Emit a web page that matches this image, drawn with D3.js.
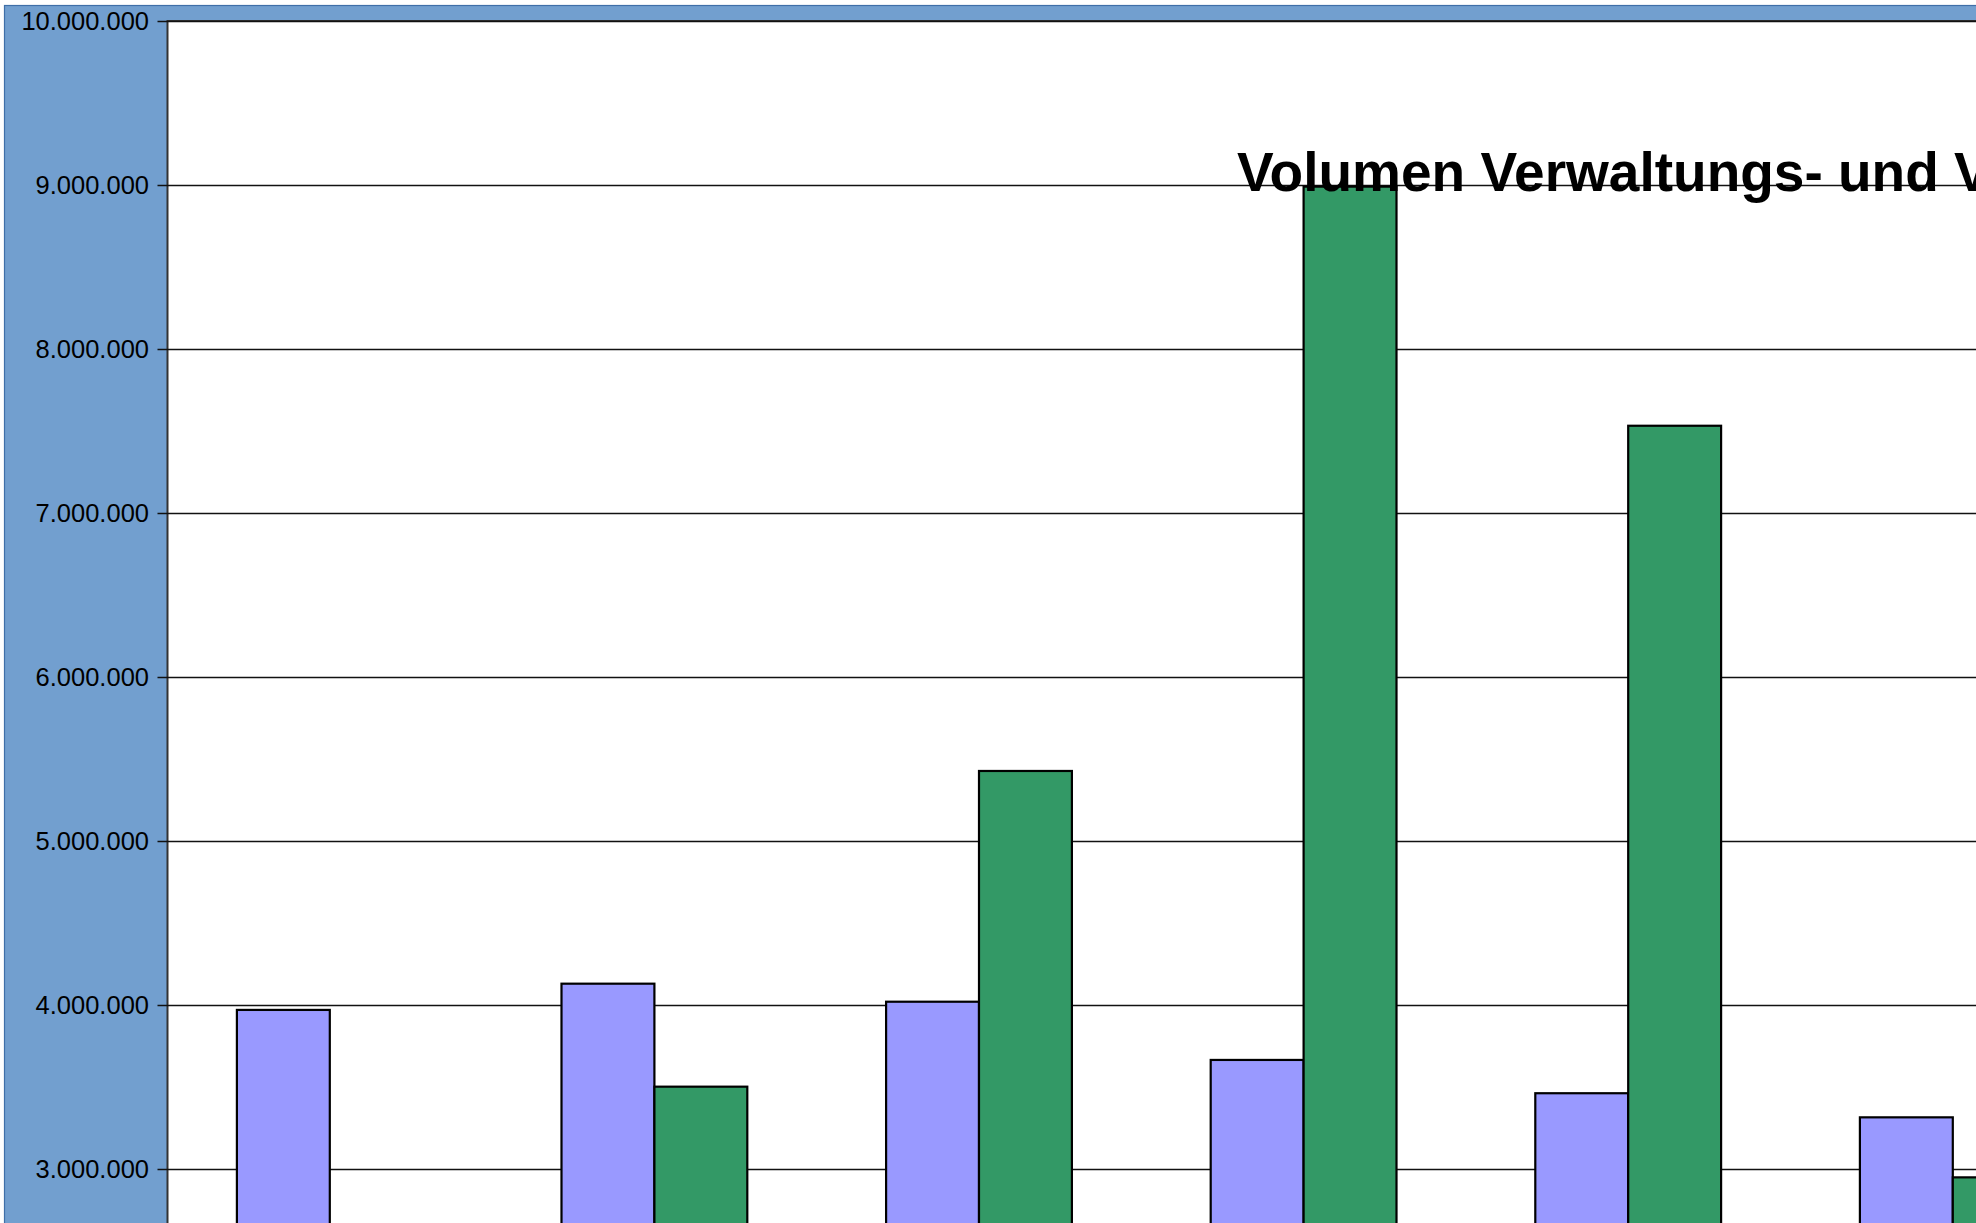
<!DOCTYPE html>
<html>
<head>
<meta charset="utf-8">
<script src="https://cdn.jsdelivr.net/npm/d3@7"></script>
<style>
  html, body { margin: 0; padding: 0; background: #ffffff; overflow: hidden; }
  svg { display: block; }
</style>
</head>
<body>
<div id="vis"></div>
<script>

// chart data (x labels sit below the visible crop)
var categories = ['1', '2', '3', '4', '5', '6'];
var seriesA = [3970000, 4130000, 4020000, 3665000, 3462000, 3315000];
var seriesB = [null, 3502000, 5427000, 8990000, 7532000, 2949000];
var yTicks = [3000000, 4000000, 5000000, 6000000, 7000000, 8000000, 9000000, 10000000];
var titleText = 'Volumen Verwaltungs- und V';

function barChart() {

  // the picture is a crop of a larger chart, so the plot runs past the window
  var width = 1976;
  var height = 1223;
  var plot = { left: 167.5, top: 21, step: 324.6, unit: 164 };

  var de = d3.formatLocale({ decimal: ',', thousands: '.', grouping: [3], currency: ['', ' €'] });
  var fmt = de.format(',d');

  var svg = d3.select('#vis')
    .append('svg')
    .attr('width', width)
    .attr('height', height);

  // scales
  var x0 = d3.scaleBand()
    .domain(categories)
    .range([plot.left, plot.left + plot.step * categories.length])
    .padding(0);

  var x1 = d3.scaleBand()
    .domain(['a', 'b'])
    .range([0, x0.bandwidth()])
    .paddingInner(0)
    .paddingOuter(0.747);

  var y = d3.scaleLinear()
    .domain([0, 10000000])
    .range([plot.top + plot.unit * 10, plot.top]);

  // blue chart background
  svg.append('rect')
    .attr('x', 4.5)
    .attr('y', 5.5)
    .attr('width', width + 20)
    .attr('height', height + 20)
    .attr('fill', '#729fcf')
    .attr('stroke', '#3f6fa8')
    .attr('stroke-width', 1.2);

  // white plot area
  svg.append('rect')
    .attr('x', plot.left)
    .attr('y', plot.top)
    .attr('width', width)
    .attr('height', height)
    .attr('fill', '#ffffff')
    .attr('stroke', '#333333')
    .attr('stroke-width', 2);

  // gridlines with outside tick marks
  svg.append('g')
    .selectAll('line')
    .data(yTicks)
    .enter()
    .append('line')
    .attr('x1', plot.left - 10)
    .attr('x2', width + 10)
    .attr('y1', function(d) { return Math.round(y(d)) + 0.5; })
    .attr('y2', function(d) { return Math.round(y(d)) + 0.5; })
    .attr('stroke', '#111111')
    .attr('stroke-width', 1.3);

  // y axis labels
  svg.append('g')
    .selectAll('text')
    .data(yTicks)
    .enter()
    .append('text')
    .attr('x', plot.left - 18.5)
    .attr('y', function(d) { return y(d); })
    .attr('dy', '0.35em')
    .attr('text-anchor', 'end')
    .attr('font-family', '"Liberation Sans", Arial, sans-serif')
    .attr('font-size', 25.5)
    .attr('fill', '#000000')
    .text(function(d) { return fmt(d); });

  // grouped bars
  var rows = categories.map(function(c, i) {
    return { cat: c, a: seriesA[i], b: seriesB[i] };
  });

  var groups = svg.append('g')
    .selectAll('g')
    .data(rows)
    .enter()
    .append('g')
    .attr('transform', function(d) { return 'translate(' + x0(d.cat) + ',0)'; });

  groups.selectAll('rect')
    .data(function(d) {
      return [
        { key: 'a', value: d.a, color: '#9999ff' },
        { key: 'b', value: d.b, color: '#339966' }
      ].filter(function(e) { return e.value != null; });
    })
    .enter()
    .append('rect')
    .attr('x', function(d) { return x1(d.key); })
    .attr('y', function(d) { return y(d.value); })
    .attr('width', x1.bandwidth())
    .attr('height', function(d) { return y(0) - y(d.value); })
    .attr('fill', function(d) { return d.color; })
    .attr('stroke', '#000000')
    .attr('stroke-width', 2.2);

  // title, drawn over the bars
  svg.append('text')
    .attr('x', 1237)
    .attr('y', 191)
    .attr('font-family', '"Liberation Sans", Arial, sans-serif')
    .attr('font-weight', 'bold')
    .attr('font-size', 55)
    .attr('fill', '#000000')
    .text(titleText);
}

barChart();
</script>
</body>
</html>
